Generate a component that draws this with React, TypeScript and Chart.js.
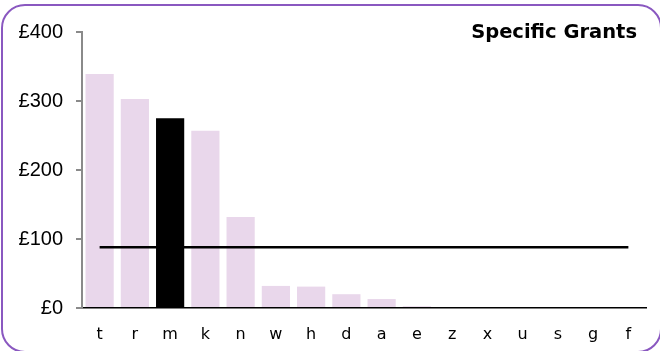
import React, { useEffect, useRef } from "react";
import { Chart, registerables } from "chart.js";

Chart.register(...registerables);

const categories = ["t", "r", "m", "k", "n", "w", "h", "d", "a", "e", "z", "x", "u", "s", "g", "f"];
const grantValues = [339, 303, 275, 257, 132, 32, 31, 20, 13, 2.5, 0, 0, 0, 0, 0, 0];
const averageValue = 88;
const highlightCategory = "m";
const yTickValues = [0, 100, 200, 300, 400];
const chartTitle = "Specific Grants";

const titlePlugin = {
  id: "cornerTitle",
  afterDraw(chart: any) {
    const ctx = chart.ctx;
    ctx.save();
    ctx.font = "bold 19.5px 'DejaVu Sans', Verdana, sans-serif";
    ctx.fillStyle = "#000";
    ctx.textAlign = "right";
    ctx.textBaseline = "alphabetic";
    ctx.fillText(chartTitle, 637, 38);
    ctx.restore();
  },
};

export default function App() {
  const ref = useRef<HTMLCanvasElement>(null);
  useEffect(() => {
    document.body.style.margin = "0";
    const barColors = categories.map((c) => (c === highlightCategory ? "#000000" : "#e9d7eb"));
    const chart = new Chart(ref.current!, {
      type: "bar",
      data: {
        labels: categories,
        datasets: [
          {
            type: "line",
            data: categories.map(() => averageValue),
            borderColor: "#000",
            borderWidth: 2.5,
            pointRadius: 0,
            order: 0,
          } as any,
          {
            type: "bar",
            data: grantValues,
            backgroundColor: barColors,
            barPercentage: 0.8,
            categoryPercentage: 1,
            order: 1,
          },
        ],
      },
      options: {
        animation: false,
        responsive: false,
        maintainAspectRatio: false,
        layout: { padding: { left: 8, right: 14, top: 32, bottom: 0 } },
        plugins: { legend: { display: false }, tooltip: { enabled: false }, title: { display: false } },
        scales: {
          x: {
            grid: { display: false, drawTicks: false },
            border: { display: true, color: "#000", width: 1.5 },
            ticks: {
              color: "#000",
              padding: 17,
              font: { family: "'DejaVu Sans', Verdana, sans-serif", size: 16 },
            },
            afterFit: (s: any) => {
              s.height = 43;
            },
          },
          y: {
            min: 0,
            max: 400,
            afterBuildTicks: (s: any) => {
              s.ticks = yTickValues.map((v) => ({ value: v }));
            },
            grid: { drawOnChartArea: false, drawTicks: true, tickLength: 6, color: "#8a8a8a", lineWidth: 2 },
            border: { display: true, color: "#8a8a8a", width: 2 },
            ticks: {
              color: "#000",
              padding: 13,
              font: { family: "'Liberation Sans', Arial, sans-serif", size: 20 },
              callback: (v: any) => "£" + v,
            },
            afterFit: (s: any) => {
              s.width = 74;
            },
          },
        },
      },
      plugins: [titlePlugin],
    });
    return () => chart.destroy();
  }, []);
  return (
    <div style={{ position: "relative", width: 660, height: 351, background: "#fff", overflow: "hidden" }}>
      <canvas ref={ref} width={660} height={351} style={{ position: "absolute", left: 0, top: 0 }} />
      <div
        style={{
          position: "absolute",
          left: 1,
          top: 4,
          width: 661,
          height: 349,
          boxSizing: "border-box",
          border: "2px solid #8a58c0",
          borderRadius: 24,
          pointerEvents: "none",
        }}
      />
    </div>
  );
}
